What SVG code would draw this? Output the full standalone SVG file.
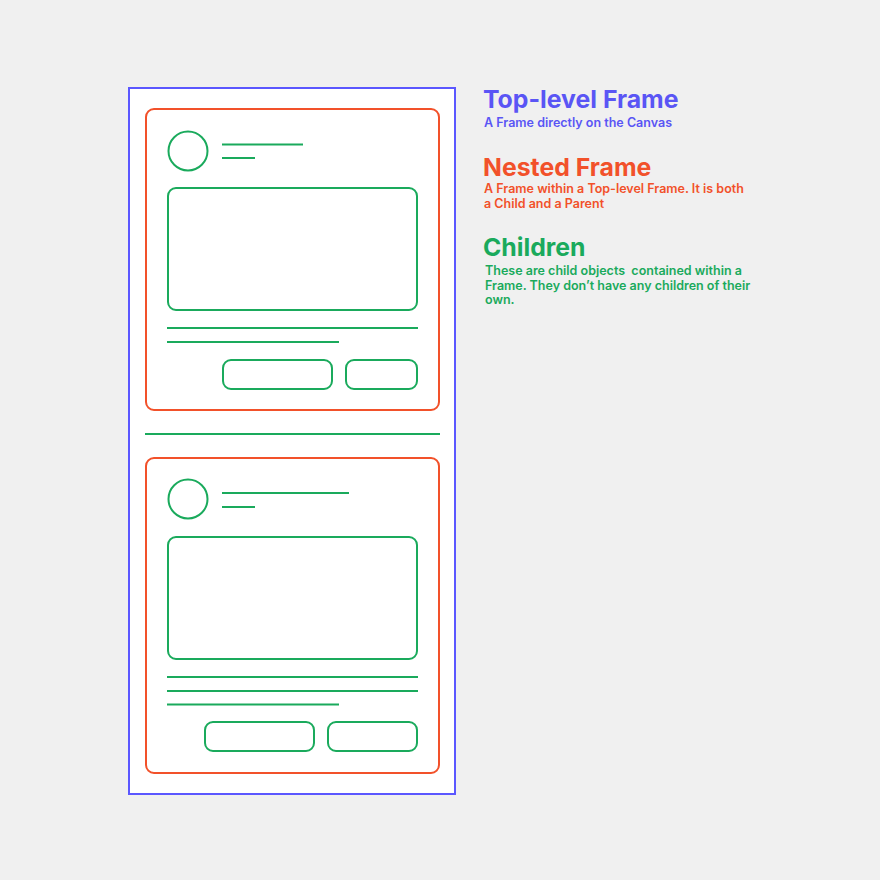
<svg xmlns="http://www.w3.org/2000/svg" width="880" height="880" viewBox="0 0 880 880">
<style>
.blue{stroke:#5b57ff;stroke-width:2;fill:#ffffff}
.orange{stroke:#f2512a;stroke-width:2;fill:#ffffff}
.g{stroke:#1aaa5c;stroke-width:2;fill:none}
.gl{stroke:#1aaa5c;stroke-width:2;fill:none;stroke-linecap:butt}
.t{font-family:Inter,"Noto Sans",sans-serif;font-weight:700;font-size:24.8px}
.s{font-family:Inter,"Noto Sans",sans-serif;font-weight:600;font-size:12.5px;white-space:pre}
</style>
<rect width="880" height="880" fill="#f0f0f0"/>
<g id="top-level-frame">
<rect class="blue" x="129" y="88" width="326" height="706"/>
</g>
<g id="nested-frame-1">
<rect class="orange" x="146" y="109" width="293" height="301" rx="8"/>
<circle class="g" cx="188" cy="151" r="19.5"/>
<line class="gl" x1="222" y1="144.5" x2="303" y2="144.5"/>
<line class="gl" x1="222" y1="158" x2="255" y2="158"/>
<rect class="g" x="168" y="188" width="249" height="122" rx="8"/>
<line class="gl" x1="167" y1="328" x2="418" y2="328"/>
<line class="gl" x1="167" y1="342" x2="339" y2="342"/>
<rect class="g" x="223" y="360" width="109" height="29" rx="8"/>
<rect class="g" x="346" y="360" width="71" height="29" rx="8"/>
</g>
<g id="divider">
<line class="gl" x1="145" y1="434" x2="440" y2="434"/>
</g>
<g id="nested-frame-2">
<rect class="orange" x="146" y="458" width="293" height="315" rx="8"/>
<circle class="g" cx="188" cy="499" r="19.5"/>
<line class="gl" x1="222" y1="493" x2="349" y2="493"/>
<line class="gl" x1="222" y1="507" x2="255" y2="507"/>
<rect class="g" x="168" y="537" width="249" height="122" rx="8"/>
<line class="gl" x1="167" y1="677" x2="418" y2="677"/>
<line class="gl" x1="167" y1="691" x2="418" y2="691"/>
<line class="gl" x1="167" y1="704.5" x2="339" y2="704.5"/>
<rect class="g" x="205" y="722" width="109" height="29" rx="8"/>
<rect class="g" x="328" y="722" width="89" height="29" rx="8"/>
</g>
<g id="legend">
<text class="t" x="483" y="108" fill="#5a55f5">Top-level Frame</text>
<text class="s" x="484" y="127" fill="#5a55f5">A Frame directly on the Canvas</text>
<text class="t" x="483" y="176" fill="#f2512a">Nested Frame</text>
<text class="s" x="484" y="193" fill="#f2512a">A Frame within a Top-level Frame. It is both</text>
<text class="s" x="484" y="208" fill="#f2512a">a Child and a Parent</text>
<text class="t" x="483" y="256" fill="#1aaa5c">Children</text>
<text class="s" x="485" y="275" fill="#1aaa5c" xml:space="preserve">These are child objects  contained within a</text>
<text class="s" x="485" y="290" fill="#1aaa5c">Frame. They don’t have any children of their</text>
<text class="s" x="485" y="304" fill="#1aaa5c">own.</text>
</g>
</svg>
